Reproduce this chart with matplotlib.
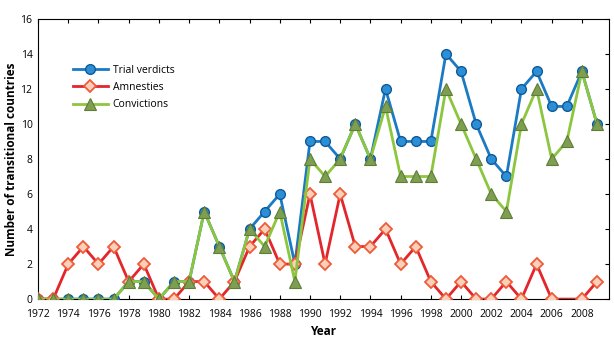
import numpy as np
from matplotlib import pyplot as plt

years = np.arange(1972, 2010)

trial_verdicts = [0, 0, 0, 0, 0, 0, 1, 1, 0, 1, 1, 5, 3, 1, 4, 5, 6, 2, 9, 9,
                  8, 10, 8, 12, 9, 9, 9, 14, 13, 10, 8, 7, 12, 13, 11, 11, 13, 10]
amnesties = [0, 0, 2, 3, 2, 3, 1, 2, 0, 0, 1, 1, 0, 1, 3, 4, 2, 2, 6, 2,
             6, 3, 3, 4, 2, 3, 1, 0, 1, 0, 0, 1, 0, 2, 0, np.nan, 0, 1]
convictions = [0, 0, 0, 0, 0, 0, 1, 1, 0, 1, 1, 5, 3, 1, 4, 3, 5, 1, 8, 7,
               8, 10, 8, 11, 7, 7, 7, 12, 10, 8, 6, 5, 10, 12, 8, 9, 13, 10]

xticks = list(range(1972, 2009, 2))
yticks = list(range(0, 17, 2))

plt.rcParams['font.family'] = ['Open Sans', 'DejaVu Sans']
fig = plt.figure(figsize=(6.14, 3.43), dpi=100)
ax = fig.add_axes([0.062, 0.128, 0.93, 0.817])

am = np.array(amnesties, dtype=float)
ok = ~np.isnan(am)

ax.plot(years, trial_verdicts, color='#1a7ac4', lw=2, marker='o', ms=7,
        mfc='#2b8fd8', mec='#105a96', mew=1, label='Trial verdicts', zorder=3)
ax.plot(years[ok], am[ok], color='#e3262b', lw=2, marker='D', ms=6,
        mfc='#fcd0b8', mec='#ef5a3a', mew=1.3, label='Amnesties', zorder=4)
ax.plot(years, convictions, color='#8cc63f', lw=2, marker='^', ms=8,
        mfc='#7e9f52', mec='#5e7d35', mew=0.8, label='Convictions', zorder=5)

ax.set_xlim(1972, 2009.8)
ax.set_ylim(0, 16)
ax.set_xticks(xticks)
ax.set_yticks(yticks)
ax.tick_params(axis='both', direction='in', labelsize=7.5, length=3,
               top=True, right=True)
ax.tick_params(axis='x', pad=7)
ax.tick_params(axis='y', left=False, pad=4)
for s in ax.spines.values():
    s.set_linewidth(0.8)
ax.set_xlabel('Year', fontsize=8.5, fontweight='bold', labelpad=4)
ax.set_ylabel('Number of transitional countries', fontsize=8.5,
              fontweight='bold', labelpad=2)

ax.legend(loc='upper left', bbox_to_anchor=(0.045, 0.87), frameon=False,
          fontsize=7.5, handlelength=3.3, labelspacing=0.6, handletextpad=0.5)

plt.savefig('out.png', dpi=100)
